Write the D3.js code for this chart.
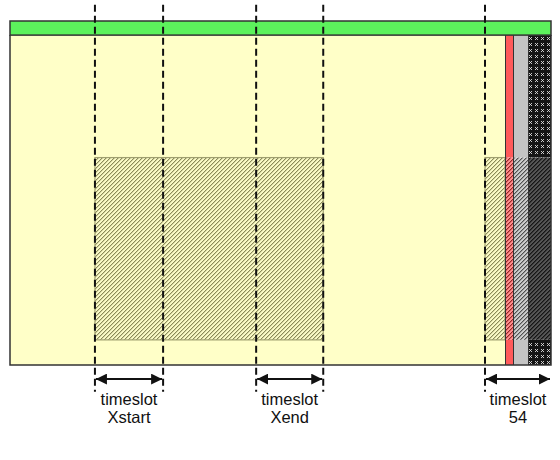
<!DOCTYPE html>
<html>
<head>
<meta charset="utf-8">
<script src="https://cdn.jsdelivr.net/npm/d3@7"></script>
<style>
  body{margin:0;background:#fff;}
  svg{display:block;}
</style>
</head>
<body>
<div id="chart"></div>
<script>
// timeline in abstract units: 0..100 across the frame, 0..100 down the frame
var slotLabels = ["Xstart", "Xend", "54"];
var slotStart  = [15.7, 45.5, 87.8];
var slotEnd    = [28.3, 57.9, 100];

var rowNames = ["header", "top", "mid", "bottom"];
var rowEdges = [0, 4.1, 39.7, 92.7, 100];

var colNames = ["red", "gray", "dark"];
var colEdges = [91.5, 93.0, 95.9, 100];

// hatched (busy) spans in the mid row
var busyStart = [15.7, 87.8];
var busyEnd   = [57.9, 91.5];

var W = 560, H = 460;
var svg = d3.select("#chart").append("svg").attr("width", W).attr("height", H);
var defs = svg.append("defs");

var x = d3.scaleLinear().domain([0, 100]).range([10, 551]);
var y = d3.scaleLinear().domain([0, 100]).range([21, 365]);

//pixel hatches, 4px period, "/" direction
function hatch(id, bg, fg, soft){
	var p = defs.append("pattern").attr("id", id).attr("patternUnits","userSpaceOnUse")
				.attr("width", 4).attr("height", 4);
	p.append("rect").attr("width",4).attr("height",4).attr("fill", bg);
	[0,1,2,3].forEach(function(k){
		p.append("rect").attr("x", k).attr("y", 3-k).attr("width",1).attr("height",1)
		 .attr("fill", fg).style("shape-rendering","crispEdges");
		p.append("rect").attr("x", k).attr("y", (4-k)%4).attr("width",1).attr("height",1)
		 .attr("fill", soft).style("shape-rendering","crispEdges");
	});
}
hatch("h-yellow", "#fafac6", "#8a8a58", "#d4d4a0");
hatch("h-red", "#ff9090", "#902828", "#e06060");
hatch("h-gray", "#cccccc", "#505050", "#999999");
hatch("h-dark", "#555555", "#151515", "#333333");

var px = defs.append("pattern").attr("id","p-dark").attr("patternUnits","userSpaceOnUse")
			 .attr("width", 6).attr("height", 6);
px.append("rect").attr("width",6).attr("height",6).attr("fill","#151515");
px.append("path").attr("d","M1,1 l3,3 M4,1 l-3,3").attr("stroke","#ddd").attr("stroke-width",0.9);

var topFill = {red:"#ff5a5a", gray:"#c4c4c4", dark:"url(#p-dark)"};
var midFill = {red:"url(#h-red)", gray:"url(#h-gray)", dark:"url(#h-dark)"};

var g = svg.append("g");

// yellow body
g.append("rect")
 .attr("x", x(0)).attr("y", y(rowEdges[1]))
 .attr("width", x(colEdges[0]) - x(0)).attr("height", y(rowEdges[4]) - y(rowEdges[1]))
 .attr("fill", "#ffffc8");

// busy hatched spans
g.selectAll("rect.busy").data(busyStart).enter().append("rect").classed("busy", true)
 .attr("x", function(d){return x(d)})
 .attr("y", y(rowEdges[2]))
 .attr("width", function(d,i){return x(busyEnd[i]) - x(d)})
 .attr("height", y(rowEdges[3]) - y(rowEdges[2]))
 .attr("fill", "url(#h-yellow)")
 .attr("stroke", "#a0a070").attr("stroke-width", 1.2);

// right columns, per row
var cells = [];
colNames.forEach(function(c, ci){
	[1, 2, 3].forEach(function(ri){
		cells.push({col:c, ci:ci, row:rowNames[ri], ri:ri});
	});
});
g.selectAll("rect.cell").data(cells).enter().append("rect").classed("cell", true)
 .attr("x", function(d){return x(colEdges[d.ci])})
 .attr("y", function(d){return y(rowEdges[d.ri])})
 .attr("width", function(d){return x(colEdges[d.ci+1]) - x(colEdges[d.ci])})
 .attr("height", function(d){return y(rowEdges[d.ri+1]) - y(rowEdges[d.ri])})
 .attr("fill", function(d){return d.row == "mid" ? midFill[d.col] : topFill[d.col]});

// column separators
g.selectAll("line.csep").data(colEdges.slice(0, 3)).enter().append("line").classed("csep", true)
 .attr("x1", function(d){return x(d)}).attr("x2", function(d){return x(d)})
 .attr("y1", y(rowEdges[1])).attr("y2", y(100))
 .attr("stroke", "#333").attr("stroke-width", 1)
 .style("shape-rendering","crispEdges");

// green header
g.append("rect")
 .attr("x", x(0)).attr("y", y(rowEdges[0]))
 .attr("width", x(100) - x(0)).attr("height", y(rowEdges[1]) - y(rowEdges[0]))
 .attr("fill", "#5cf25c").attr("stroke", "#333").attr("stroke-width", 1.5);

// frame: left, bottom, right
g.append("path")
 .attr("d", "M" + x(0) + "," + y(rowEdges[1]) + "V" + y(100) + "H" + x(colEdges[0]) +
			"M" + x(100) + "," + y(rowEdges[1]) + "V" + y(100) + "H" + x(colEdges[0]))
 .attr("fill", "none").attr("stroke", "#333").attr("stroke-width", 1.5);

// dashed slot boundaries
var bounds = [];
slotStart.forEach(function(d, i){
	bounds.push(d);
	if(slotEnd[i] < 100) bounds.push(slotEnd[i]);
});
g.selectAll("line.dash").data(bounds).enter().append("line").classed("dash", true)
 .attr("x1", function(d){return x(d)}).attr("x2", function(d){return x(d)})
 .attr("y1", y(-4.7)).attr("y2", y(107.8))
 .attr("stroke", "#111").attr("stroke-width", 2)
 .attr("stroke-dasharray", "7,4");

// arrows
defs.append("marker").attr("id","ah").attr("viewBox","0 0 10 10")
	.attr("refX", 10).attr("refY", 5).attr("markerWidth", 11).attr("markerHeight", 11)
	.attr("markerUnits","userSpaceOnUse").attr("orient","auto-start-reverse")
	.append("path").attr("d","M0,0 L10,5 L0,10 Z").attr("fill","#111");

var ay = y(104.1);
g.selectAll("line.arrow").data(slotStart).enter().append("line").classed("arrow", true)
 .attr("x1", function(d){return x(d) + 1}).attr("x2", function(d,i){return x(slotEnd[i]) - 1})
 .attr("y1", ay).attr("y2", ay)
 .attr("stroke", "#111").attr("stroke-width", 2)
 .attr("marker-start", "url(#ah)").attr("marker-end", "url(#ah)");

// labels
var labels = g.selectAll("text.lab").data(slotLabels).enter().append("text").classed("lab", true)
 .attr("x", function(d,i){return (x(slotStart[i]) + x(slotEnd[i])) / 2})
 .attr("y", 405)
 .attr("text-anchor", "middle")
 .style("font-family", "'Liberation Sans', Arial, sans-serif")
 .style("font-size", "16.5px")
 .style("fill", "#111");
labels.append("tspan").text("timeslot");
labels.append("tspan").attr("x", function(d,i){return (x(slotStart[i]) + x(slotEnd[i])) / 2})
	  .attr("dy", 18).text(function(d){return d});
</script>
</body>
</html>
